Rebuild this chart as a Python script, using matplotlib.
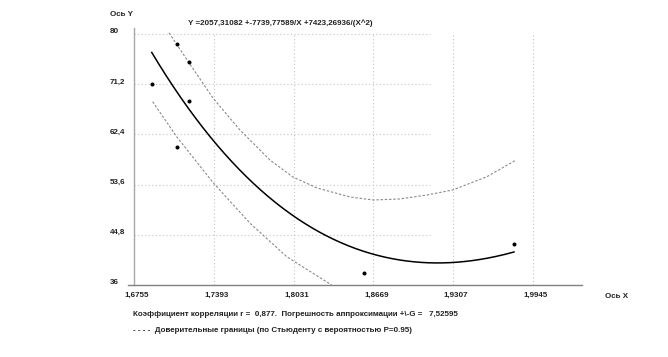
import numpy as np
import matplotlib
matplotlib.use("Agg")
import matplotlib.pyplot as plt
import matplotlib.transforms as mtransforms

plt.rcParams['font.family'] = ['Liberation Sans', 'DejaVu Sans']

# ---- data ----
x_points = [1.6897, 1.7096, 1.7192, 1.7192, 1.7096, 1.8596, 1.9793]
y_points = [71.18, 78.19, 75.09, 68.26, 60.14, 38.05, 43.24]

coef_a = 2057.31082
coef_b = -7739.77589
coef_c = 7423.26936

upper_x = [1.7035, 1.7096, 1.7189, 1.7388, 1.7602, 1.7842, 1.8026, 1.8218,
           1.8482, 1.8666, 1.8882, 1.9098, 1.9305, 1.9577, 1.9801]
upper_y = [80.2, 78.2, 75.14, 68.73, 63.17, 57.91, 54.93, 53.01,
           51.43, 50.90, 51.08, 51.78, 52.66, 54.99, 57.79]

lower_x = [1.6904, 1.7096, 1.7389, 1.7683, 1.7976, 1.8335]
lower_y = [68.13, 62.0, 53.9, 46.82, 40.96, 36.0]

x_ticks = [1.6755, 1.7393, 1.8031, 1.8669, 1.9307, 1.9945]
x_tick_labels = ['1,6755', '1,7393', '1,8031', '1,8669', '1,9307', '1,9945']
y_ticks = [36, 44.8, 53.6, 62.4, 71.2, 80]
y_tick_labels = ['36', '44,8', '53,6', '62,4', '71,2', '80']

title_text = 'Y =2057,31082 +-7739,77589/X +7423,26936/(X^2)'
info_text = 'Коэффициент корреляции r =  0,877.  Погрешность аппроксимации +\\-G =   7,52595'
legend_text = '- - - -  Доверительные границы (по Стьюденту с вероятностью P=0.95)'

# ---- figure ----
W, H = 668, 357
fig = plt.figure(figsize=(W / 100, H / 100), dpi=100)
ax = fig.add_axes([128 / W, 1 - 285 / H, (582 - 128) / W, (285 - 28) / H])

ax.set_xlim(1.6707, 2.0337)
ax.set_ylim(36, 81.05)

txt_color = '#222222'
fs = 5.8

# grid
grid_kw = dict(color='#c4c4c4', linewidth=0.8, linestyle=(0, (1, 2.2)), zorder=1)
for yv in y_ticks[1:]:
    ax.plot([x_ticks[0], 1.9122], [yv, yv], **grid_kw)
for xv in x_ticks[1:]:
    ax.plot([xv, xv], [y_ticks[0], y_ticks[-1]], **grid_kw)

# fitted curve
xf = np.linspace(min(x_points), max(x_points), 300)
yf = coef_a + coef_b / xf + coef_c / xf ** 2
ax.plot(xf, yf, color='black', linewidth=1.1, zorder=3)

# confidence bands
band_kw = dict(color='#8a8a8a', linewidth=0.8, linestyle=(0, (2.2, 1.6)), zorder=2)
ax.plot(upper_x, upper_y, **band_kw)
ax.plot(lower_x, lower_y, **band_kw)

# points
ax.plot(x_points, y_points, linestyle='none', marker='o', markersize=1.9,
        color='black', zorder=4)

# spines
for s in ['top', 'right']:
    ax.spines[s].set_visible(False)
ax.spines['left'].set_position(('data', x_ticks[0]))
ax.spines['left'].set_color('#a8a8a8')
ax.spines['left'].set_linewidth(1.0)
ax.spines['bottom'].set_color('#808080')
ax.spines['bottom'].set_linewidth(1.0)

# ticks
ax.set_xticks(x_ticks)
ax.set_xticklabels(x_tick_labels, fontsize=fs, fontweight='bold', color=txt_color)
ax.set_yticks(y_ticks)
ax.set_yticklabels(y_tick_labels, fontsize=fs, fontweight='bold', color=txt_color)
ax.tick_params(axis='x', length=0, pad=5)
ax.tick_params(axis='y', length=0, pad=17.3)
for lab in ax.get_yticklabels():
    lab.set_horizontalalignment('left')
    lab.set_transform(lab.get_transform() +
                      mtransforms.ScaledTranslation(0, 3 / 100, fig.dpi_scale_trans))
for lab in ax.get_xticklabels():
    lab.set_transform(lab.get_transform() +
                      mtransforms.ScaledTranslation(3 / 100, 0, fig.dpi_scale_trans))

# texts
fig.text(110 / W, 1 - 15 / H, 'Ось Y', fontsize=fs, fontweight='bold',
         color=txt_color, ha='left', va='center')
fig.text(605 / W, 1 - 297 / H, 'Ось X', fontsize=fs, fontweight='bold',
         color=txt_color, ha='left', va='center')
fig.text(188 / W, 1 - 23 / H, title_text, fontsize=fs, fontweight='bold',
         color=txt_color, ha='left', va='center')
fig.text(133 / W, 1 - 315 / H, info_text, fontsize=fs, fontweight='bold',
         color=txt_color, ha='left', va='center')
fig.text(133 / W, 1 - 331 / H, legend_text, fontsize=fs, fontweight='bold',
         color=txt_color, ha='left', va='center')

fig.savefig('out.png', dpi=100)
